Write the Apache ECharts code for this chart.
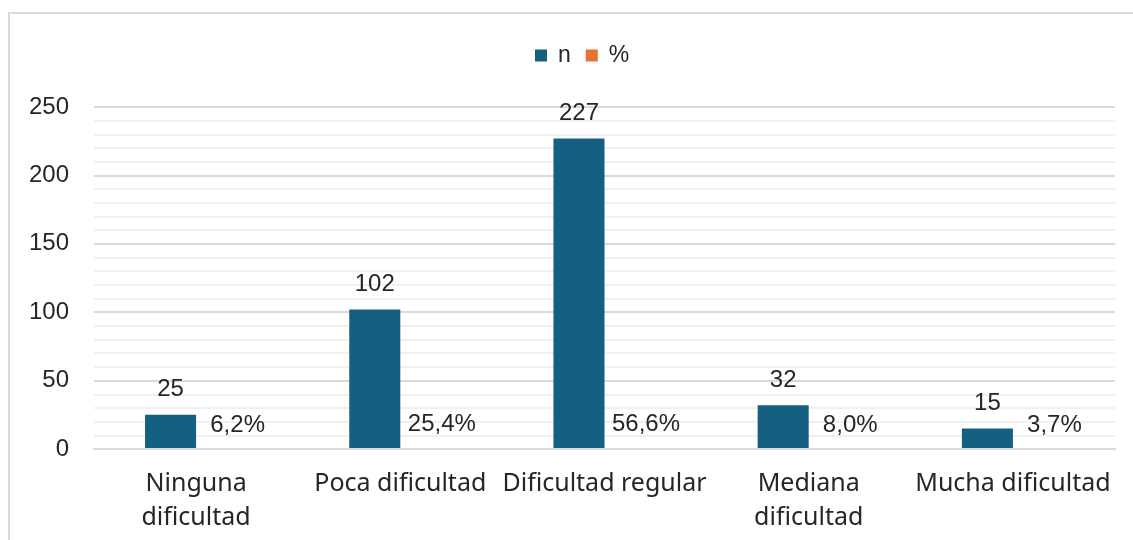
<!DOCTYPE html>
<html>
<head>
<meta charset="utf-8">
<script src="https://cdn.jsdelivr.net/npm/echarts@6/dist/echarts.min.js"></script>
<style>
  html, body { margin: 0; padding: 0; background: #fff; }
  #chart { width: 1133px; height: 540px; }
</style>
</head>
<body>
<div id="chart"></div>
<script>
// Level of difficulty reported: counts and shares
const categories = ['Ninguna\ndificultad', 'Poca dificultad', 'Dificultad regular', 'Mediana\ndificultad', 'Mucha dificultad'];
const countValues = [25, 102, 227, 32, 15];
const shareValues = [0.062, 0.254, 0.566, 0.080, 0.037];
const seriesNames = ['n', '%'];
const yTicks = { min: 0, max: 250, interval: 50 };

const BLUE = '#156082';
const ORANGE = '#E97132';
const FONT = '"Liberation Sans", Arial, sans-serif';
const TEXT = '#262626';

const chart = echarts.init(document.getElementById('chart'), null, { renderer: 'canvas' });

chart.setOption({
  animation: false,
  backgroundColor: '#ffffff',
  graphic: [{
    type: 'rect',
    shape: { x: 9, y: 13, width: 1200, height: 600 },
    style: { fill: 'none', stroke: '#d9d9d9', lineWidth: 2 },
    silent: true
  }],
  legend: {
    top: 39,
    left: 530,
    itemWidth: 12,
    itemHeight: 12,
    itemGap: 15,
    icon: 'rect',
    textStyle: { fontFamily: FONT, fontSize: 23, color: TEXT, padding: [0, 0, 0, 6] },
    data: seriesNames
  },
  grid: { left: 94, right: 18, top: 107, bottom: 91, containLabel: false },
  xAxis: {
    type: 'category',
    data: categories,
    z: 3,
    axisLine: { show: true, lineStyle: { color: '#d9d9d9', width: 2 } },
    axisTick: { show: false },
    axisLabel: {
      interval: 0,
      margin: 18,
      fontFamily: '"Noto Sans", sans-serif',
      fontSize: 25,
      lineHeight: 34,
      color: TEXT
    }
  },
  yAxis: {
    type: 'value',
    min: yTicks.min,
    max: yTicks.max,
    interval: yTicks.interval,
    axisLine: { show: false },
    axisTick: { show: false },
    axisLabel: { fontFamily: FONT, fontSize: 24, color: TEXT, margin: 25 },
    splitLine: { show: true, lineStyle: { color: '#d9d9d9', width: 2 } },
    minorTick: { show: false, splitNumber: 5 },
    minorSplitLine: { show: true, lineStyle: { color: '#f0f0f0', width: 2 } }
  },
  series: [
    {
      name: seriesNames[0],
      type: 'bar',
      data: countValues,
      barGap: '0%',
      barCategoryGap: '50%',
      itemStyle: { color: BLUE },
      label: {
        show: true,
        position: 'top',
        distance: 13,
        fontFamily: FONT,
        fontSize: 24,
        color: TEXT
      }
    },
    {
      name: seriesNames[1],
      type: 'bar',
      data: shareValues,
      barGap: '0%',
      barCategoryGap: '50%',
      itemStyle: { color: ORANGE },
      label: {
        show: true,
        position: 'top',
        distance: 12,
        offset: [16, 0],
        fontFamily: FONT,
        fontSize: 24,
        color: TEXT,
        formatter: p => (p.value * 100).toFixed(1).replace('.', ',') + '%'
      }
    }
  ]
});
</script>
</body>
</html>
